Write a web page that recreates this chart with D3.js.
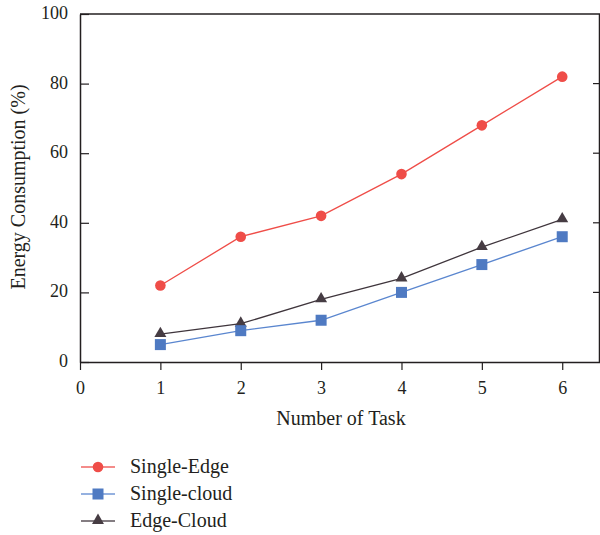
<!DOCTYPE html>
<html><head><meta charset="utf-8">
<script src="https://cdn.jsdelivr.net/npm/d3@7"></script>
<style>body{margin:0;background:#fff;} svg{display:block;font-family:"Liberation Serif","DejaVu Serif",serif;}</style>
</head><body>
<svg id="c" width="600" height="535"></svg>
<script>
const tasks = [1, 2, 3, 4, 5, 6];
const singleEdge = [22, 36, 42, 54, 68, 82];
const singleCloud = [5, 9, 12, 20, 28, 36];
const edgeCloud = [8, 11, 18, 24, 33, 41];
const xTicks = [0, 1, 2, 3, 4, 5, 6];
const yTicks = [0, 20, 40, 60, 80, 100];
const seriesNames = ["Single-Edge", "Single-cloud", "Edge-Cloud"];

const svg = d3.select("#c");
const pL = 80, pR = 600, pT = 14, pB = 362;
const x = d3.scaleLinear().domain([0, 6.47]).range([pL, pR]);
const y = d3.scaleLinear().domain([0, 100]).range([pB, pT]);
const ink = "#231f20";
const serif = "'Liberation Serif', serif";

const series = [
  {name: seriesNames[0], vals: singleEdge, line: "#ef4d48", fill: "#ef4d48", shape: "circle"},
  {name: seriesNames[1], vals: singleCloud, line: "#5a86cf", fill: "#4f7ac2", shape: "square"},
  {name: seriesNames[2], vals: edgeCloud, line: "#3f353c", fill: "#463c43", shape: "triangle"}
];

// frame
const g = svg.append("g");
g.append("line").attr("x1", pL).attr("x2", pR).attr("y1", pT).attr("y2", pT).attr("stroke", ink).attr("stroke-width", 1.5);
g.append("line").attr("x1", pR - 0.5).attr("x2", pR - 0.5).attr("y1", pT).attr("y2", pB).attr("stroke", ink).attr("stroke-width", 1.5);

// axes
const xAxis = g.append("g").attr("transform", `translate(0,${pB})`)
  .call(d3.axisBottom(x).tickValues(xTicks).tickSize(8).tickSizeOuter(0).tickPadding(11).tickFormat(d3.format("d")));
const yAxis = g.append("g").attr("transform", `translate(${pL},0)`)
  .call(d3.axisLeft(y).tickValues(yTicks).tickSize(-9).tickSizeOuter(0).tickPadding(10));
[xAxis, yAxis].forEach(a => {
  a.attr("font-family", serif).attr("font-size", 18);
  a.select(".domain").attr("stroke", ink).attr("stroke-width", 1.5);
  a.selectAll(".tick line").attr("stroke", ink).attr("stroke-width", 1.2);
  a.selectAll("text").attr("fill", ink).style("font-size", "18px").style("font-family", serif);
});
yAxis.selectAll(".tick text").attr("x", -12).attr("dy", "0.25em");
// right ticks inward
g.selectAll(".rt").data(yTicks.slice(1, -1)).enter().append("line")
  .attr("x1", pR - 7).attr("x2", pR).attr("y1", d => y(d)).attr("y2", d => y(d))
  .attr("stroke", ink).attr("stroke-width", 1.2);

// labels
svg.append("text").attr("x", 341).attr("y", 425).attr("text-anchor", "middle")
  .attr("fill", ink).style("font-size", "20px").style("font-family", serif).text("Number of Task");
svg.append("text").attr("transform", `translate(25,187) rotate(-90)`).attr("text-anchor", "middle")
  .attr("fill", ink).style("font-size", "20px").style("font-family", serif).text("Energy Consumption (%)");

function marker(sel, shape, color) {
  if (shape === "circle") sel.append("circle").attr("r", 5.3).attr("fill", color);
  else if (shape === "square") sel.append("rect").attr("x", -5.5).attr("y", -5.5).attr("width", 11).attr("height", 11).attr("fill", color);
  else sel.append("path").attr("d", d3.symbol().type(d3.symbolTriangle).size(62)()).attr("transform", "translate(0,-0.5)").attr("fill", color);
}

const line = d3.line().x((d, i) => x(tasks[i])).y(d => y(d));
[2, 1, 0].forEach(k => {
  const s = series[k];
  svg.append("path").datum(s.vals).attr("d", line).attr("fill", "none").attr("stroke", s.line).attr("stroke-width", 1.3);
});
[2, 1, 0].forEach(k => {
  const s = series[k];
  s.vals.forEach((v, i) => {
    const m = svg.append("g").attr("transform", `translate(${x(tasks[i])},${y(v)})`);
    marker(m, s.shape, s.fill);
  });
});

// legend
series.forEach((s, i) => {
  const ly = 467 + i * 27;
  const lg = svg.append("g").attr("transform", `translate(0,${ly})`);
  lg.append("line").attr("x1", 81).attr("x2", 115).attr("y1", 0).attr("y2", 0).attr("stroke", s.line).attr("stroke-width", 1.5).attr("opacity", 0.85);
  const m = lg.append("g").attr("transform", "translate(98,0)");
  marker(m, s.shape, s.fill);
  lg.append("text").attr("x", 130).attr("y", 6).attr("fill", ink).style("font-size", "20px").style("font-family", serif).text(s.name);
});
</script>
</body></html>
